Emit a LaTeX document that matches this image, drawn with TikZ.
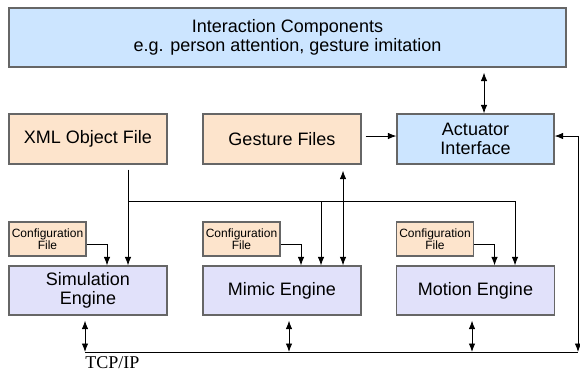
\documentclass[tikz,border=0pt]{standalone}
\usepackage{fontspec}
\setmainfont{Liberation Sans}
\newfontfamily\tcpfont{Liberation Serif}
\usetikzlibrary{arrows.meta}
\definecolor{iface}{HTML}{CCE5FF}
\definecolor{filebg}{HTML}{FDE4CC}
\definecolor{enginebg}{HTML}{E1E1FA}
\tikzset{
  block/.style={draw=black!60, line width=1.2pt, inner sep=0pt, align=center,
    font=\fontsize{18}{19.5}\selectfont},
  bigblock/.style={block, minimum width=158, minimum height=50},
  cfgbox/.style={block, fill=filebg, minimum width=77, minimum height=34,
    font=\fontsize{12}{12.5}\selectfont}
}
\begin{document}
\begin{tikzpicture}[x=1pt,y=-1pt,>={Latex[length=8.5pt,width=6.5pt]},line width=0.9pt]
                \useasboundingbox (0,0) rectangle (580,373);
                %% interaction layer
                \node[block,fill=iface,minimum width=557,minimum height=59] (ic) at (287.5,37.5) {Interaction Components\\e.g. person attention, gesture imitation};
                %% files and actuator
                \node[bigblock,fill=filebg] (xml) at (88,139) {XML Object File};
                \node[bigblock,fill=filebg] (gest) at (282,139) {Gesture Files};
                \node[bigblock,fill=iface,minimum width=157] (act) at (475.5,139) {Actuator\\Interface};
                %% engines and their configuration files
                \foreach \n/\x/\t in {sim/88/{Simulation\\Engine},mim/282/{Mimic Engine},mot/475.5/{Motion Engine}} {
                    \node[bigblock,fill=enginebg,minimum height=49] (\n) at (\x,290.5) {\t};
                    \node[cfgbox] (cfg\n) at (\x-40.5,239) {Configuration\\File};
                    \draw[->] (cfg\n.east |- 0,244) -| ([xshift=19pt]\n.north);
                }
                %% object file to the engines
                \draw[->,shorten <=5pt] (xml.south -| 128,0) -- (sim.north -| 128,0);
                \coordinate (split) at (128,201);
                \draw[->] (split) -| (mot.north -| 515,0);
                \draw[->] (split -| 321,0) -- (mim.north -| 321,0);
                %% gestures
                \draw[<->,shorten <=6pt] (gest.south -| 343,0) -- (mim.north -| 343,0);
                \draw[->,shorten <=4pt] (gest.east |- 0,136) -- (act.west |- 0,136);
                \draw[<->,shorten <=5pt] (ic.south -| 484,0) -- (act.north -| 484,0);
                %% TCP/IP bus
                \coordinate (busL) at (85,352);
                \coordinate (busR) at (578,352);
                \draw (busL) -- (busR);
                \draw[<->] (act.east |- 0,136) -| (busR);
                \foreach \n/\x in {sim/85,mim/289,mot/472} \draw[<->,shorten <=5pt] (\n.south -| \x,0) -- (busL -| \x,0);
                \node[anchor=base west,inner sep=0pt,font=\tcpfont\fontsize{18}{20}\selectfont] (tcp) at (85,368) {TCP/IP};
            \end{tikzpicture}
\end{document}
